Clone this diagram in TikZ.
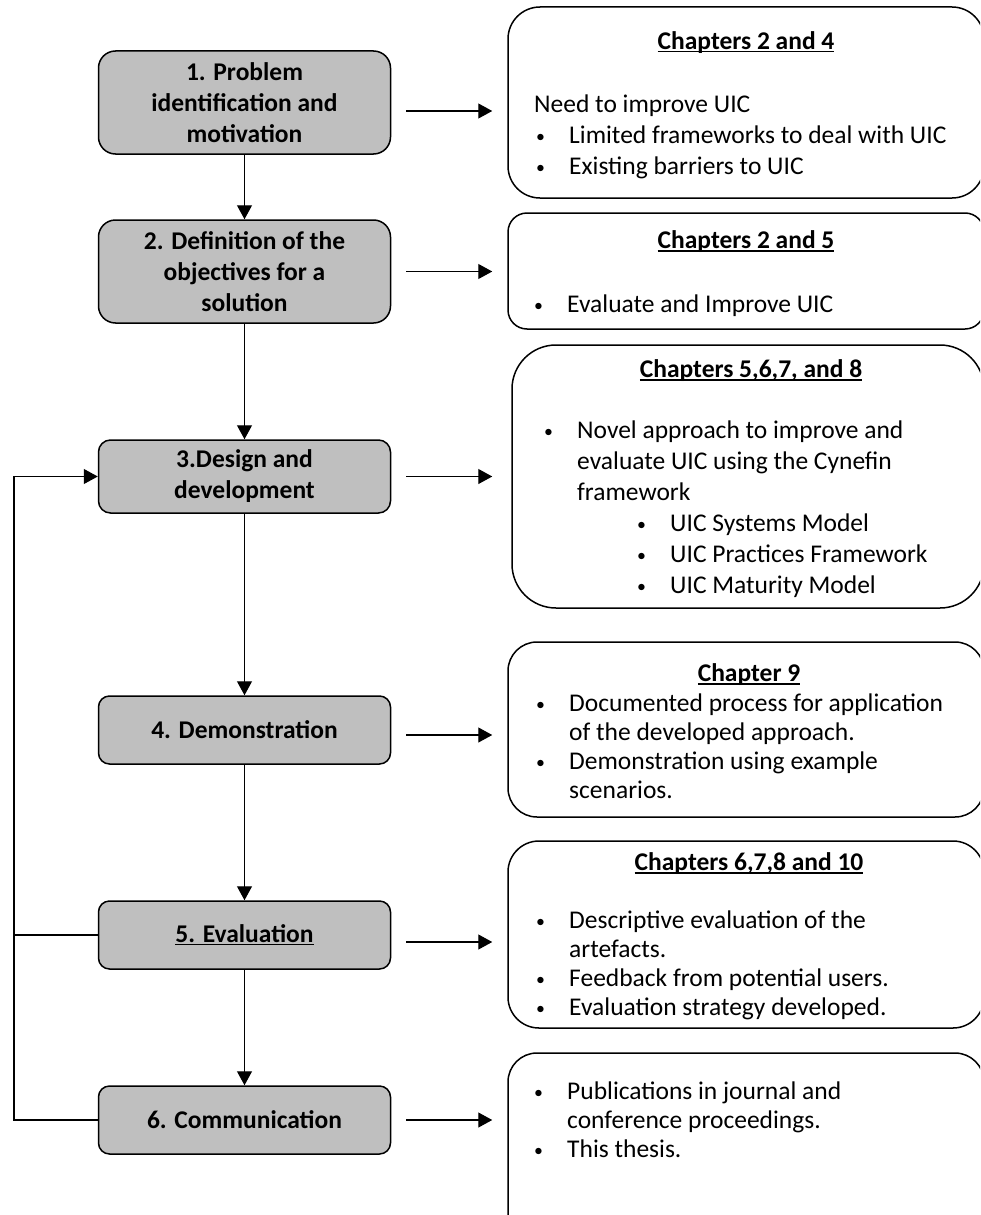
\documentclass[tikz,border=0pt]{standalone}
\usepackage{fontspec}
\usepackage{graphicx}
\setmainfont{Carlito}
\usetikzlibrary{arrows.meta}
\definecolor{boxgray}{RGB}{191,191,191}
% underlined heading with the rule crossing the descenders
\newcommand\chapul[1]{\setbox0\hbox{#1}\rlap{\copy0}\rule[-3.5pt]{\wd0}{1.3pt}}
% small bullet with a fixed hanging indent
\newcommand\bul{\makebox[35pt][l]{\hspace*{2pt}\raisebox{1pt}{\scalebox{0.7}{\textbullet}}}}
\newcommand\ind{\hspace*{35pt}}
\begin{document}
\begin{tikzpicture}[x=1pt,y=-1pt,
  stepbox/.style={draw, line width=1.5pt, fill=boxgray, minimum width=292pt,
    font=\fontsize{25.5}{31}\selectfont\bfseries, align=center, inner sep=0pt},
  infobox/.style={draw, line width=1.5pt, fill=white, inner sep=0pt},
  heading/.style={anchor=base, inner sep=0pt, font=\fontsize{25.5}{31}\selectfont\bfseries},
  listtext/.style={anchor=base west, inner sep=0pt, font=\fontsize{25.5}{31}\selectfont},
  listtight/.style={anchor=base west, inner sep=0pt, font=\fontsize{25.5}{29}\selectfont},
  arr/.style={-{Triangle[length=14pt,width=15pt]}, line width=1.2pt},
  link/.style={line width=1.2pt}]
\useasboundingbox (0,0) rectangle (980,1215);
\clip (0,0) rectangle (980,1215);

% process steps
\node[stepbox, minimum height=103pt, rounded corners=17pt] (b1) at (244.5,102.5) {1. Problem\\identification and\\motivation};
\node[stepbox, minimum height=103pt, rounded corners=17pt] (b2) at (244.5,271.5) {2. Definition of the\\objectives for a\\solution};
\node[stepbox, minimum height=73pt, rounded corners=12pt] (b3) at (244.5,476.5) {3.Design and\\development};
\node[stepbox, minimum height=68pt, rounded corners=11pt] (b4) at (244.5,730) {4. Demonstration};
\node[stepbox, minimum height=68pt, rounded corners=11pt] (b5) at (244.5,935) {\underline{5. Evaluation}};
\node[stepbox, minimum height=68pt, rounded corners=11pt] (b6) at (244.5,1120) {6. Communication};

% chapter boxes
\node[infobox, minimum width=476pt, minimum height=191pt, rounded corners=32pt] (r1) at (746,102.5) {};
\node[infobox, minimum width=476pt, minimum height=116pt, rounded corners=19pt] (r2) at (746,271) {};
\node[infobox, minimum width=472pt, minimum height=263pt, rounded corners=44pt] (r3) at (748,476.5) {};
\node[infobox, minimum width=476pt, minimum height=175pt, rounded corners=29pt] (r4) at (746,729.5) {};
\node[infobox, minimum width=476pt, minimum height=187pt, rounded corners=31pt] (r5) at (746,934.5) {};
\node[infobox, minimum width=476pt, minimum height=200pt, rounded corners=29pt] (r6) at (746,1153) {};

% chapter box contents
\node[heading] (h1) at (746,49) {\chapul{Chapters 2 and 4}};
\node[listtext] (t1) at (534,112) {\begin{tabular}[t]{@{}l@{}}
  Need to improve UIC\\
  \bul Limited frameworks to deal with UIC\\
  \bul Existing barriers to UIC
\end{tabular}};

\node[heading] (h2) at (746,248) {\chapul{Chapters 2 and 5}};
\node[listtext] (t2) at (532,312) {\begin{tabular}[t]{@{}l@{}}
  \bul Evaluate and Improve UIC
\end{tabular}};

\node[heading] (h3) at (751,377) {\chapul{Chapters 5,6,7, and 8}};
\node[listtext] (t3) at (542,438) {\begin{tabular}[t]{@{}l@{}}
  \bul Novel approach to improve and\\
  \ind evaluate UIC using the Cynefin\\
  \ind framework\\
  \ind\hspace*{58pt}\bul UIC Systems Model\\
  \ind\hspace*{58pt}\bul UIC Practices Framework\\
  \ind\hspace*{58pt}\bul UIC Maturity Model
\end{tabular}};

\node[heading] (h4) at (749,681) {\chapul{Chapter 9}};
\node[listtight] (t4) at (534,711) {\begin{tabular}[t]{@{}l@{}}
  \bul Documented process for application\\
  \ind of the developed approach.\\
  \bul Demonstration using example\\
  \ind scenarios.
\end{tabular}};

\node[heading] (h5) at (749,870) {\chapul{Chapters 6,7,8 and 10}};
\node[listtight] (t5) at (534,928) {\begin{tabular}[t]{@{}l@{}}
  \bul Descriptive evaluation of the\\
  \ind artefacts.\\
  \bul Feedback from potential users.\\
  \bul Evaluation strategy developed.
\end{tabular}};

\node[listtight] (t6) at (532,1099) {\begin{tabular}[t]{@{}l@{}}
  \bul Publications in journal and\\
  \ind conference proceedings.\\
  \bul This thesis.
\end{tabular}};

% flow between steps
\draw[arr] (b1) -- (b2);
\draw[arr] (b2) -- (b3);
\draw[arr] (b3) -- (b4);
\draw[arr] (b4) -- (b5);
\draw[arr] (b5) -- (b6);

% links to chapter boxes
\draw[arr, shorten <=15pt, shorten >=15pt] ([yshift=-8.5pt]b1.east) -- ([yshift=-8.5pt]b1.east -| r1.west);
\draw[arr, shorten <=15pt, shorten >=15pt] (b2.east) -- (b2.east -| r2.west);
\draw[arr, shorten <=15pt, shorten >=19pt] (b3.east) -- (b3.east -| r3.west);
\draw[arr, shorten <=15pt, shorten >=15pt] ([yshift=-5pt]b4.east) -- ([yshift=-5pt]b4.east -| r4.west);
\draw[arr, shorten <=15pt, shorten >=15pt] ([yshift=-7pt]b5.east) -- ([yshift=-7pt]b5.east -| r5.west);
\draw[arr, shorten <=15pt, shorten >=15pt] (b6.east) -- (b6.east -| r6.west);

% feedback loop
\coordinate (fb) at (14,0);
\draw[arr] (b6.west) -- (fb |- b6.west) -- (fb |- b3.west) -- (b3.west);
\draw[link] (b5.west) -- (fb |- b5.west);
\end{tikzpicture}
\end{document}
